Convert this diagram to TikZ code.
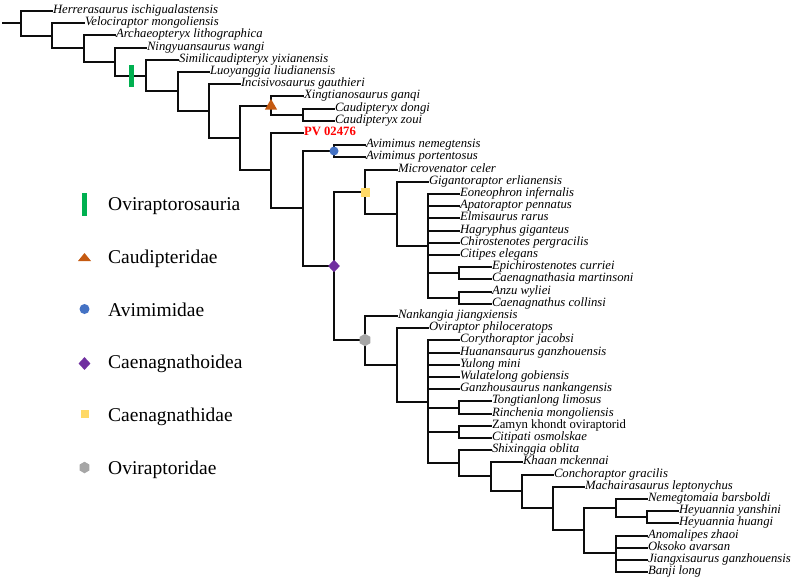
\documentclass[tikz,border=0pt]{standalone}
\usepackage{fontspec}
\setmainfont{Liberation Serif}
\usetikzlibrary{shapes.geometric}
\definecolor{cgreen}{RGB}{0,176,80}
\definecolor{corange}{RGB}{197,90,17}
\definecolor{cblue}{RGB}{68,114,196}
\definecolor{cpurple}{RGB}{112,48,160}
\definecolor{cyellow}{RGB}{255,217,102}
\definecolor{cgrey}{RGB}{166,166,166}
\newcommand\mkleaf[4]{\node[lab] (#1) at ({round(21+31.3*#2)},{round(11+12.2*#3)}) {#4};}
\newcommand\mkin[3]{\coordinate (#1) at ({round(21+31.3*#2)},#3);}
\newcommand\brk[3]{\draw[br] (#1) -| (#2) |- (#3);}
\begin{document}
\begin{tikzpicture}[x=1pt,y=-1pt,
  br/.style={line width=2pt, draw=black!95, line join=miter, line cap=rect},
  lab/.style={anchor=west, inner xsep=0.8pt, inner ysep=0pt, font=\fontsize{12.7}{13}\selectfont\itshape, text height=8.2pt, text depth=2.6pt},
  legtext/.style={anchor=base west, inner sep=0pt, font=\fontsize{19.5}{20}\selectfont},
  mk/.style={inner sep=0pt, draw=none}]
\useasboundingbox (0,0) rectangle (799,582);
% leaves
\mkleaf{H}{1}{0}{Herrerasaurus ischigualastensis}
\mkleaf{V}{2}{1}{Velociraptor mongoliensis}
\mkleaf{Ar}{3}{2}{Archaeopteryx lithographica}
\mkleaf{N}{4}{3}{Ningyuansaurus wangi}
\mkleaf{S}{5}{4}{Similicaudipteryx yixianensis}
\mkleaf{Lu}{6}{5}{Luoyanggia liudianensis}
\mkleaf{In}{7}{6}{Incisivosaurus gauthieri}
\mkleaf{Xi}{9}{7}{Xingtianosaurus ganqi}
\mkleaf{Cd}{10}{8}{Caudipteryx dongi}
\mkleaf{Cz}{10}{9}{Caudipteryx zoui}
\node[lab, font=\fontsize{12.7}{13}\selectfont\bfseries, text=red] (PV) at ({round(21+31.3*9)},133) {PV 02476};
\mkleaf{An}{11}{11}{Avimimus nemegtensis}
\mkleaf{Ap}{11}{12}{Avimimus portentosus}
\mkleaf{Mi}{12}{13}{Microvenator celer}
\mkleaf{Gi}{13}{14}{Gigantoraptor erlianensis}
\mkleaf{Eo}{14}{15}{Eoneophron infernalis}
\mkleaf{Apa}{14}{16}{Apatoraptor pennatus}
\mkleaf{El}{14}{17}{Elmisaurus rarus}
\mkleaf{Ha}{14}{18}{Hagryphus giganteus}
\mkleaf{Ch}{14}{19}{Chirostenotes pergracilis}
\mkleaf{Ci}{14}{20}{Citipes elegans}
\mkleaf{Ep}{15}{21}{Epichirostenotes curriei}
\mkleaf{Cas}{15}{22}{Caenagnathasia martinsoni}
\mkleaf{Anz}{15}{23}{Anzu wyliei}
\mkleaf{Cg}{15}{24}{Caenagnathus collinsi}
\mkleaf{Na}{12}{25}{Nankangia jiangxiensis}
\mkleaf{Ov}{13}{26}{Oviraptor philoceratops}
\mkleaf{Co}{14}{27}{Corythoraptor jacobsi}
\mkleaf{Hu}{14}{28}{Huanansaurus ganzhouensis}
\mkleaf{Yu}{14}{29}{Yulong mini}
\mkleaf{Wu}{14}{30}{Wulatelong gobiensis}
\mkleaf{Ga}{14}{31}{Ganzhousaurus nankangensis}
\mkleaf{To}{15}{32}{Tongtianlong limosus}
\mkleaf{Ri}{15}{33}{Rinchenia mongoliensis}
\node[lab, font=\fontsize{12.7}{13}\selectfont] (Za) at ({round(21+31.3*15)},426) {Zamyn khondt oviraptorid};
\mkleaf{Cit}{15}{35}{Citipati osmolskae}
\mkleaf{Sh}{15}{36}{Shixinggia oblita}
\mkleaf{Kh}{16}{37}{Khaan mckennai}
\mkleaf{Con}{17}{38}{Conchoraptor gracilis}
\mkleaf{Ma}{18}{39}{Machairasaurus leptonychus}
\mkleaf{Ne}{20}{40}{Nemegtomaia barsboldi}
\mkleaf{Hy}{21}{41}{Heyuannia yanshini}
\mkleaf{Hh}{21}{42}{Heyuannia huangi}
\mkleaf{Ano}{20}{43}{Anomalipes zhaoi}
\mkleaf{Ok}{20}{44}{Oksoko avarsan}
\mkleaf{Ji}{20}{45}{Jiangxisaurus ganzhouensis}
\mkleaf{Ba}{20}{46}{Banji long}
% internal nodes
\coordinate (r0) at (3,23);
\mkin{nA}{0}{23}
\mkin{nB}{1}{36}
\mkin{nC}{2}{48}
\mkin{nD}{3}{62}
\mkin{nE}{4}{76}
\mkin{nF}{5}{91}
\mkin{nG}{6}{111}
\mkin{nGb}{7}{138}
\mkin{nCau}{8}{106}
\mkin{nCd}{9}{115}
\mkin{nH}{8}{170}
\mkin{nI}{9}{208}
\mkin{nAv}{10}{151}
\mkin{nJ}{10}{266}
\mkin{nK}{11}{192}
\mkin{nL}{12}{214}
\mkin{nM}{13}{246}
\mkin{nN}{14}{273}
\mkin{nO}{14}{298}
\mkin{nP}{11}{340}
\mkin{nQ}{12}{365}
\mkin{nR}{13}{402}
\mkin{nS}{14}{408}
\mkin{nT}{14}{432}
\mkin{nU}{14}{463}
\mkin{nV}{15}{476}
\mkin{nW}{16}{491}
\mkin{nX}{17}{508}
\mkin{nY}{18}{530}
\mkin{nZ}{19}{508}
\mkin{nAB}{20}{517}
\mkin{nAA}{19}{553}
% branches
\draw[br] (r0) -- (nA);
\brk{H.west}{nA}{nB}
\brk{V.west}{nB}{nC}
\brk{Ar.west}{nC}{nD}
\brk{N.west}{nD}{nE}
\brk{S.west}{nE}{nF}
\brk{Lu.west}{nF}{nG}
\brk{In.west}{nG}{nGb}
\brk{nCau}{nGb}{nH}
\brk{Xi.west}{nCau}{nCd}
\brk{Cd.west}{nCd}{Cz.west}
\brk{PV.west}{nH}{nI}
\brk{nAv}{nI}{nJ}
\brk{An.west}{nAv}{Ap.west}
\brk{nK}{nJ}{nP}
\brk{Mi.west}{nK}{nL}
\brk{Gi.west}{nL}{nM}
\brk{Eo.west}{nM}{nO}
\foreach \c in {Apa,El,Ha,Ch,Ci} {\draw[br] (nM) |- (\c.west);}
\draw[br] (nM) |- (nN);
\brk{Ep.west}{nN}{Cas.west}
\brk{Anz.west}{nO}{Cg.west}
\brk{Na.west}{nP}{nQ}
\brk{Ov.west}{nQ}{nR}
\brk{Co.west}{nR}{nU}
\foreach \c in {Hu,Yu,Wu,Ga} {\draw[br] (nR) |- (\c.west);}
\draw[br] (nR) |- (nS);
\draw[br] (nR) |- (nT);
\brk{To.west}{nS}{Ri.west}
\brk{Za.west}{nT}{Cit.west}
\brk{Sh.west}{nU}{nV}
\brk{Kh.west}{nV}{nW}
\brk{Con.west}{nW}{nX}
\brk{Ma.west}{nX}{nY}
\brk{nZ}{nY}{nAA}
\brk{Ne.west}{nZ}{nAB}
\brk{Hy.west}{nAB}{Hh.west}
\brk{Ano.west}{nAA}{Ba.west}
\foreach \c in {Ok,Ji} {\draw[br] (nAA) |- (\c.west);}
% clade markers on tree
\node[mk, fill=cgreen, minimum width=5.5pt, minimum height=22pt] (tOvi) at (131.5,76) {};
\node[mk, fill=corange, regular polygon, regular polygon sides=3, minimum size=14pt] (tCau) at (nCau) {};
\node[mk, fill=cblue, circle, minimum size=9pt] (tAvi) at (nAv) {};
\node[mk, fill=cpurple, diamond, minimum width=12pt, minimum height=12.5pt] (tCaeo) at (nJ) {};
\node[mk, fill=cyellow, minimum size=9pt] (tCaed) at (nK) {};
\node[mk, fill=cgrey, regular polygon, regular polygon sides=6, shape border rotate=30, minimum size=12.5pt] (tOvd) at (nP) {};
% legend
\node[mk, fill=cgreen, minimum width=5pt, minimum height=23pt] (lOvi) at (84.5,204) {};
\fill[corange] (78,261) -- (91,261) -- (84.5,253) -- cycle;
\node[mk, fill=cblue, circle, minimum size=10pt] (lAvi) at (84.5,309) {};
\node[mk, fill=cpurple, diamond, minimum width=12pt, minimum height=13pt] (lCaeo) at (84.5,363.5) {};
\node[mk, fill=cyellow, minimum size=8pt] (lCaed) at (84.5,414) {};
\node[mk, fill=cgrey, regular polygon, regular polygon sides=6, shape border rotate=30, minimum size=11.5pt] (lOvd) at (84.5,467.5) {};
\node[legtext] (tx1) at (108,210.5) {Oviraptorosauria};
\node[legtext] (tx2) at (108,263.3) {Caudipteridae};
\node[legtext] (tx3) at (108,316.1) {Avimimidae};
\node[legtext] (tx4) at (108,368.9) {Caenagnathoidea};
\node[legtext] (tx5) at (108,421.7) {Caenagnathidae};
\node[legtext] (tx6) at (108,474.5) {Oviraptoridae};
\end{tikzpicture}
\end{document}
